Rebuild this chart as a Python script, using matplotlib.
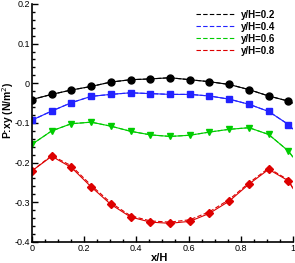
import numpy as np
import matplotlib.pyplot as plt
from matplotlib.ticker import MultipleLocator, FuncFormatter

plt.rcParams['font.family'] = ['Liberation Sans', 'DejaVu Sans']

# marker positions along x/H
x_pts = [0.0, 0.076, 0.151, 0.227, 0.302, 0.378, 0.454, 0.529, 0.605, 0.680,
         0.756, 0.832, 0.907, 0.983]

# P:xy values at the markers
p02 = [-0.041, -0.028, -0.017, -0.008, 0.003, 0.009, 0.011, 0.014, 0.009,
       0.004, -0.003, -0.016, -0.032, -0.045]
p04 = [-0.093, -0.070, -0.049, -0.033, -0.028, -0.024, -0.026, -0.028, -0.028,
       -0.032, -0.040, -0.053, -0.071, -0.104]
p06 = [-0.154, -0.120, -0.102, -0.098, -0.108, -0.121, -0.130, -0.134, -0.131,
       -0.123, -0.116, -0.112, -0.129, -0.171]
p08 = [-0.221, -0.184, -0.212, -0.261, -0.305, -0.337, -0.350, -0.353, -0.348,
       -0.328, -0.297, -0.254, -0.217, -0.246]

# values where the curves meet x/H = 1
p_end = [-0.050, -0.115, -0.186, -0.265]

# dashed red curve sits a little off the solid one
p08_dash = [-0.221, -0.182, -0.208, -0.257, -0.301, -0.334, -0.347, -0.350,
            -0.344, -0.324, -0.293, -0.251, -0.214, -0.244]

labels = ['y/H=0.2', 'y/H=0.4', 'y/H=0.6', 'y/H=0.8']
colors = ['black', '#2222ff', '#00cc00', '#dd0000']
markers = ['o', 's', 'v', 'D']
msizes = [5, 3.8, 4.3, 4.3]

fig = plt.figure(figsize=(2.95, 2.63), dpi=100)
ax = fig.add_axes([0.108, 0.08, 0.885, 0.905])

series = [p02, p04, p06, p08]
dashed = [p02, p04, p06, p08_dash]
x_line = x_pts + [1.0]
for i in range(4):
    ax.plot(x_line, series[i] + [p_end[i]], '-', color=colors[i], lw=0.8,
            marker=markers[i], ms=msizes[i], markevery=list(range(14)))
    ax.plot(x_line, dashed[i] + [p_end[i]], '--', color=colors[i], lw=0.8,
            dashes=(4, 2), label=labels[i])

ax.set_xlim(0, 1)
ax.set_ylim(-0.4, 0.2)
ax.xaxis.set_major_locator(MultipleLocator(0.2))
ax.xaxis.set_minor_locator(MultipleLocator(0.05))
ax.yaxis.set_major_locator(MultipleLocator(0.1))
ax.yaxis.set_minor_locator(MultipleLocator(0.02))
fmt = FuncFormatter(lambda v, p: ('%g' % round(v, 2)))
ax.xaxis.set_major_formatter(fmt)
ax.yaxis.set_major_formatter(fmt)
ax.tick_params(which='both', direction='in', labelsize=6.5, width=1, pad=1.5)
ax.tick_params(which='major', length=4)
ax.tick_params(which='minor', length=2)
for s in ['top', 'right']:
    ax.spines[s].set_visible(False)
for s in ['left', 'bottom']:
    ax.spines[s].set_linewidth(1.2)

ax.set_xlabel('x/H', fontsize=8, fontweight='bold')
ax.set_ylabel('P:xy (N/m$^2$)', fontsize=7.5, fontweight='bold')
ax.xaxis.set_label_coords(0.49, -0.046)
ax.yaxis.set_label_coords(-0.062, 0.555)

leg = ax.legend(loc='upper right', frameon=False, fontsize=7, handlelength=4.0,
                handletextpad=0.6, labelspacing=0.2, bbox_to_anchor=(0.955, 1.0),
                borderaxespad=0.2)
for t in leg.get_texts():
    t.set_fontweight('bold')

fig.savefig('out.png', dpi=100)
